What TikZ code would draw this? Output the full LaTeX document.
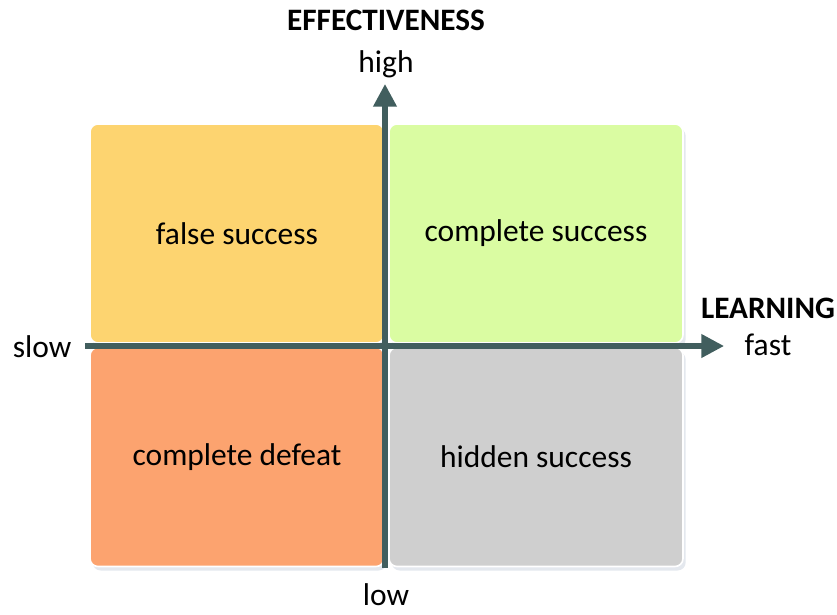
\documentclass[tikz,border=0pt]{standalone}
\usepackage{fontspec}
\setmainfont{Carlito}
\usepackage{xcolor}
\usetikzlibrary{calc, positioning, arrows.meta, shadows}

\definecolor{falsecol}{HTML}{FDD470}
\definecolor{goodcol}{HTML}{DAFCA2}
\definecolor{defeatcol}{HTML}{FCA36F}
\definecolor{hiddencol}{HTML}{CFCFCF}
\definecolor{axiscol}{HTML}{415E5E}
\definecolor{shadowcol}{HTML}{DDE2EA}

\tikzset{
  quadrant/.style={draw=white, line width=1.2pt, rounded corners=6pt,
    minimum width=294*0.75pt, minimum height=219*0.75pt, inner sep=0pt,
    font=\fontsize{23.6}{28}\selectfont,
    drop shadow={shadow xshift=2pt, shadow yshift=-3pt, fill=shadowcol, opacity=0.8}},
  axis/.style={draw=axiscol, line width=3.8pt, -{Triangle[length=17pt, width=17pt]}},
  title/.style={font=\fontsize{23.4}{28}\selectfont\bfseries},
  tick/.style={font=\fontsize{23.6}{28}\selectfont, inner sep=1pt}
}

\begin{document}
\begin{tikzpicture}[x=0.75pt, y=-0.75pt]
\useasboundingbox (0,0) rectangle (837,614);

\node[quadrant, fill=falsecol] (false) at (237,233.5) {false success};
\node[quadrant, fill=goodcol] (good) at (536,233.5) {complete success};
\node[quadrant, fill=defeatcol] (defeat) at (237,457) {complete defeat};
\node[quadrant, fill=hiddencol] (hidden) at (536,457) {hidden success};

% axes, ends taken a little past the boxes
\coordinate (vbot) at (385,568);
\coordinate (vtop) at (385,84);
\coordinate (hleft) at (85,346);
\coordinate (hright) at (724,346);
\draw[axis] (vbot) -- (vtop);
\draw[axis] (hleft) -- (hright);

\node[title] (effect) at (386,20) {EFFECTIVENESS};
\node[tick] (high) at (386,64) {high};
\node[tick] (low) at (386,595) {low};
\node[title] (learn) at (768,308) {LEARNING};
\node[tick] (fast) at (768,345) {fast};
\node[tick] (slow) at (42,347) {slow};

\end{tikzpicture}
\end{document}
